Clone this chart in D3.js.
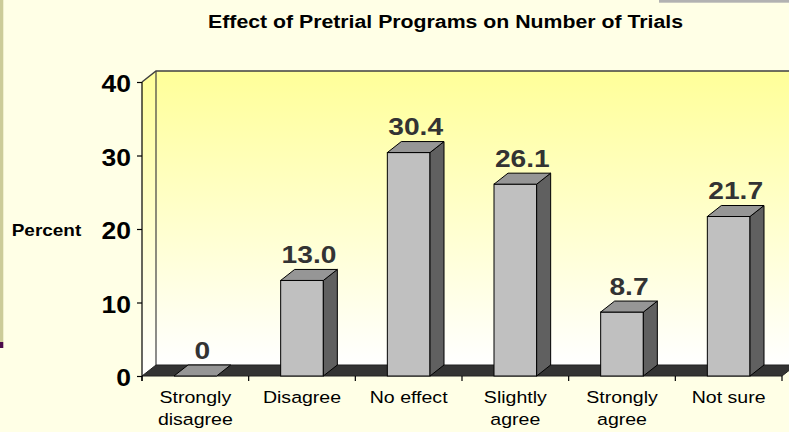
<!DOCTYPE html>
<html>
<head>
<meta charset="utf-8">
<script src="https://cdn.jsdelivr.net/npm/d3@7"></script>
<style>
  html, body { margin: 0; padding: 0; background: #FFFFE6; }
  svg { display: block; }
  text { font-family: "Liberation Sans", Arial, sans-serif; }
</style>
</head>
<body>
<svg id="chart" width="789" height="432"></svg>
<script>
// ---- data ----
const title = "Effect of Pretrial Programs on Number of Trials";
const yAxisLabel = "Percent";
const categories = ["Strongly\ndisagree", "Disagree", "No effect", "Slightly\nagree", "Strongly\nagree", "Not sure"];
const values = [0, 13.0, 30.4, 26.1, 8.7, 21.7];
const valueLabels = ["0", "13.0", "30.4", "26.1", "8.7", "21.7"];
const yTicks = [0, 10, 20, 30, 40];

// ---- layout ----
const W = 789, H = 432;
const SX = 1.15;              // horizontal stretch of text in reference
const depthX = 14, depthY = -11;

const svg = d3.select("#chart");
const defs = svg.append("defs");
const grad = defs.append("linearGradient").attr("id", "wallGrad")
  .attr("x1", 0).attr("y1", 0).attr("x2", 0).attr("y2", 1);
grad.append("stop").attr("offset", "0%").attr("stop-color", "#FFFF99");
grad.append("stop").attr("offset", "100%").attr("stop-color", "#FFFFFF");

const y = d3.scaleLinear().domain([0, 40]).range([376, 82]);
const x = d3.scaleBand().domain(categories).range([142, 782]).paddingInner(0).paddingOuter(0);
const barW = x.bandwidth() * 0.4;

// decorative slide edges
svg.append("rect").attr("x", 0).attr("y", 0).attr("width", 3.3).attr("height", 342).attr("fill", "#CCCC99");
svg.append("rect").attr("x", 0).attr("y", 342).attr("width", 3.3).attr("height", 6).attr("fill", "#4B0A4B");
svg.append("rect").attr("x", 659).attr("y", 0).attr("width", 130).attr("height", 2.7).attr("fill", "#B2B2B2");

function stext(g, px, py, str, size, weight, anchor, fill) {
  return g.append("text")
    .attr("transform", `translate(${px},${py}) scale(${SX},1)`)
    .attr("text-anchor", anchor)
    .attr("font-size", size)
    .attr("font-weight", weight)
    .attr("fill", fill)
    .text(str);
}

// title
stext(svg, 445.5, 27.7, title, 18.5, "bold", "middle", "#000");

// ---- 3D walls ----
const y0 = y(0), yTop = y(40);
const xL = x.range()[0], xR = x.range()[1];
// back wall
svg.append("rect")
  .attr("x", xL + depthX).attr("y", yTop + depthY)
  .attr("width", xR - xL).attr("height", y0 - yTop)
  .attr("fill", "url(#wallGrad)");
// side wall
svg.append("path")
  .attr("d", `M${xL},${yTop} L${xL + depthX},${yTop + depthY} L${xL + depthX},${y0 + depthY} L${xL},${y0} Z`)
  .attr("fill", "url(#wallGrad)");
// wall borders
svg.append("path")
  .attr("d", `M${xL},${yTop} L${xL + depthX},${yTop + depthY} L${xR + depthX},${yTop + depthY}`)
  .attr("fill", "none").attr("stroke", "#404040").attr("stroke-width", 1.5);
svg.append("line")
  .attr("x1", xL + depthX).attr("x2", xL + depthX)
  .attr("y1", yTop + depthY).attr("y2", y0 + depthY)
  .attr("stroke", "#404040").attr("stroke-width", 1.2);
// floor
svg.append("path")
  .attr("d", `M${xL},${y0} L${xL + depthX},${y0 + depthY} L${xR + depthX},${y0 + depthY} L${xR},${y0} Z`)
  .attr("fill", "#333333").attr("stroke", "#222").attr("stroke-width", 1);

// ---- bars ----
const bars = svg.append("g").selectAll("g").data(values).join("g");
bars.each(function (v, i) {
  const g = d3.select(this);
  const c = categories[i];
  const x0 = x(c) + (x.bandwidth() - barW) / 2;
  const x1 = x0 + barW;
  const yt = y(v);
  if (v > 0) {
    // front
    g.append("rect").attr("x", x0).attr("y", yt).attr("width", barW).attr("height", y0 - yt)
      .attr("fill", "#C0C0C0").attr("stroke", "#000").attr("stroke-width", 1);
    // side
    g.append("path")
      .attr("d", `M${x1},${yt} L${x1 + depthX},${yt + depthY} L${x1 + depthX},${y0 + depthY} L${x1},${y0} Z`)
      .attr("fill", "#606060").attr("stroke", "#000").attr("stroke-width", 1).attr("stroke-linejoin", "round");
  }
  // top
  g.append("path")
    .attr("d", `M${x0},${yt} L${x0 + depthX},${yt + depthY} L${x1 + depthX},${yt + depthY} L${x1},${yt} Z`)
    .attr("fill", "#969696").attr("stroke", "#000").attr("stroke-width", 1).attr("stroke-linejoin", "round");
  // value label
  stext(g, (x0 + x1 + depthX) / 2, yt + depthY - 6.5, valueLabels[i], 24.5, "bold", "middle", "#333333");
});

// ---- axes ----
const yAxis = svg.append("g").attr("transform", `translate(${xL},0)`)
  .call(d3.axisLeft(y).tickValues(yTicks).tickSize(5).tickPadding(6).tickFormat(d3.format("d")));
yAxis.select(".domain").attr("d", `M0,${yTop}V${y0 + 5}`).attr("stroke", "#000").attr("stroke-width", 1.2);
yAxis.selectAll(".tick line").attr("stroke", "#000").attr("stroke-width", 1.2);
yAxis.selectAll(".tick text")
  .attr("x", -11 / SX).attr("dy", "0.42em")
  .attr("transform", `scale(${SX},1)`)
  .attr("font-size", 23).attr("font-weight", "bold").attr("fill", "#000")
  .attr("font-family", "Liberation Sans, Arial, sans-serif");

// x axis ticks at category boundaries
const boundaries = categories.map(c => x(c)).concat([xR]);
svg.append("g").selectAll("line").data(boundaries).join("line")
  .attr("x1", d => d).attr("x2", d => d)
  .attr("y1", y0).attr("y2", y0 + 5)
  .attr("stroke", "#000").attr("stroke-width", 1.2);

// category labels
const catG = svg.append("g");
categories.forEach(c => {
  const lines = c.split("\n");
  lines.forEach((ln, j) => {
    stext(catG, x(c) + x.bandwidth() / 2, 403.3 + j * 21.7, ln, 17, "normal", "middle", "#000");
  });
});

// y axis title
stext(svg, 11.7, 236, yAxisLabel, 16.5, "bold", "start", "#000");
</script>
</body>
</html>
